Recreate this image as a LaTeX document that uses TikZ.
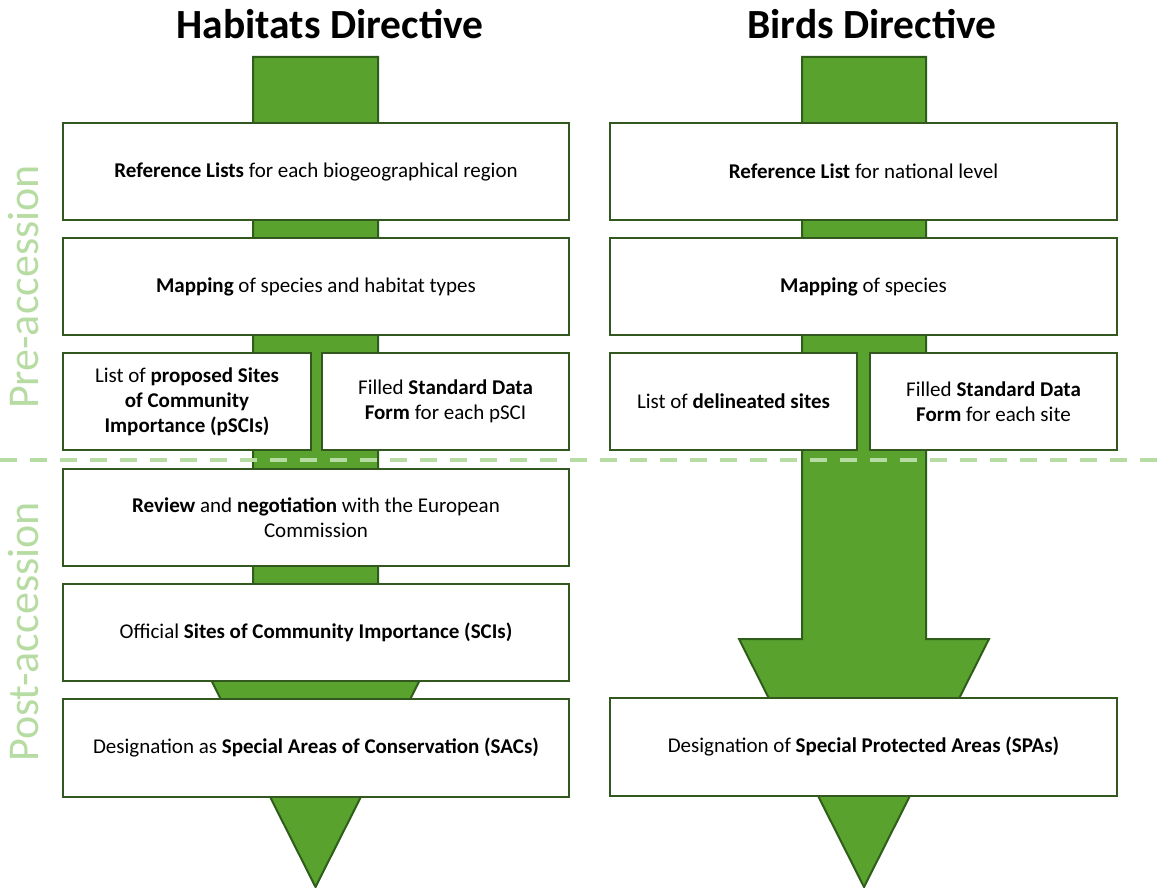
\documentclass[tikz,border=0pt]{standalone}
\usepackage{fontspec}
\setmainfont{Carlito}
\definecolor{arrowfill}{HTML}{5AA22E}
\definecolor{arrowline}{HTML}{2E5E1A}
\definecolor{boxline}{HTML}{33581F}
\definecolor{phasegreen}{HTML}{B7DCA3}
\begin{document}
\begin{tikzpicture}[x=1pt,y=-1pt,
  box/.style={draw=boxline, line width=2pt, fill=white, align=center,
    inner sep=2pt, font=\fontsize{21}{25}\selectfont},
  flow/.style={fill=arrowfill, draw=arrowline, line width=2pt, line join=miter},
  title/.style={font=\fontsize{41.5}{48}\selectfont\bfseries},
  phase/.style={rotate=90, text=phasegreen, font=\fontsize{44}{52}\selectfont},
  divider/.style={draw=phasegreen, line width=3.5pt, dash pattern=on 17pt off 13pt}]
\useasboundingbox (0,0) rectangle (1167,888);

% titles
\node[title] (th) at (330,24) {Habitats Directive};
\node[title] (tb) at (872,24) {Birds Directive};

% big arrows behind the boxes
\draw[flow] (253,57) -- (378,57) -- (378,639) -- (440.5,639) -- (315.5,887)
  -- (190.5,639) -- (253,639) -- cycle;
\draw[flow] (802,57) -- (926,57) -- (926,639) -- (989,639) -- (864,887)
  -- (739,639) -- (802,639) -- cycle;

% Habitats Directive steps
\node[box, minimum width=506pt, minimum height=97pt] (h1) at (316,171.5)
  {\textbf{Reference Lists} for each biogeographical region};
\node[box, minimum width=506pt, minimum height=97pt] (h2) at (316,286.5)
  {\textbf{Mapping} of species and habitat types};
\node[box, minimum width=248pt, minimum height=97pt] (h3a) at (187,401.5)
  {List of \textbf{proposed Sites}\\ \textbf{of Community}\\ \textbf{Importance (pSCIs)}};
\node[box, minimum width=247pt, minimum height=97pt] (h3b) at (445.5,401.5)
  {Filled \textbf{Standard Data}\\ \textbf{Form} for each pSCI};
\node[box, minimum width=506pt, minimum height=97pt] (h4) at (316,517.5)
  {\textbf{Review} and \textbf{negotiation} with the European\\ Commission};
\node[box, minimum width=506pt, minimum height=97pt] (h5) at (316,632.5)
  {Official \textbf{Sites of Community Importance (SCIs)}};
\node[box, minimum width=506pt, minimum height=98pt] (h6) at (316,747.5)
  {Designation as \textbf{Special Areas of Conservation (SACs)}};

% Birds Directive steps
\node[box, minimum width=507pt, minimum height=97pt] (b1) at (863.5,171.5)
  {\textbf{Reference List} for national level};
\node[box, minimum width=507pt, minimum height=97pt] (b2) at (863.5,286.5)
  {\textbf{Mapping} of species};
\node[box, minimum width=247pt, minimum height=97pt] (b3a) at (733.5,401.5)
  {List of \textbf{delineated sites}};
\node[box, minimum width=247pt, minimum height=97pt] (b3b) at (993.5,401.5)
  {Filled \textbf{Standard Data}\\ \textbf{Form} for each site};
\node[box, minimum width=507pt, minimum height=98pt] (b6) at (863.5,747)
  {Designation of \textbf{Special Protected Areas (SPAs)}};

% accession divider and phase labels
\coordinate (dl) at (0,460);
\coordinate (dr) at (1167,460);
\draw[divider] (dl) -- (dr);
\node[phase] (pre) at (24,287) {Pre-accession};
\node[phase] (post) at (24,632) {Post-accession};
\end{tikzpicture}
\end{document}
